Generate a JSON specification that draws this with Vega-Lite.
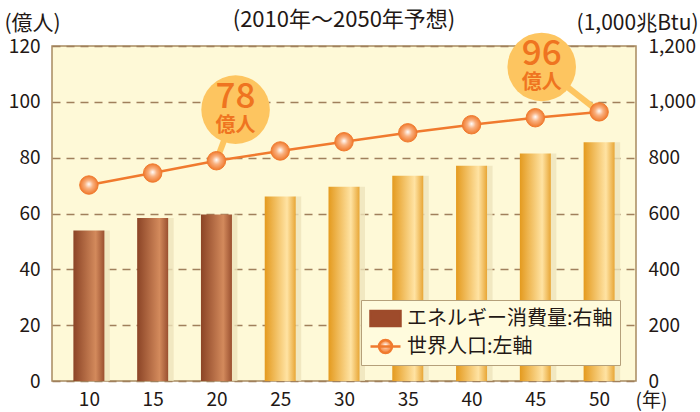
{
  "$schema": "https://vega.github.io/schema/vega-lite/v6.json",
  "width": 584,
  "height": 335,
  "autosize": {"type": "none"},
  "padding": {"left": 52, "top": 46, "right": 64, "bottom": 31},
  "background": "#FFFFFF",
  "config": {
    "font": "Noto Sans CJK JP",
    "view": {"fill": "#FEF9D7", "stroke": "#A88A60", "strokeWidth": 1.5},
    "axis": {"labelColor": "#231815", "titleColor": "#231815", "labelFont": "Noto Sans CJK JP", "titleFont": "Noto Sans CJK JP"}
  },
  "title": {"text": "(2010年〜2050年予想)", "fontSize": 22, "fontWeight": "normal", "color": "#231815", "anchor": "middle", "offset": 16, "dy": 36},
  "datasets": {
    "main": [
      {"year": 10, "type": "実績", "energy": 539, "pop": 70.2},
      {"year": 15, "type": "実績", "energy": 584, "pop": 74.5},
      {"year": 20, "type": "実績", "energy": 596, "pop": 78.9},
      {"year": 25, "type": "予想", "energy": 661, "pop": 82.4},
      {"year": 30, "type": "予想", "energy": 696, "pop": 85.7},
      {"year": 35, "type": "予想", "energy": 735, "pop": 88.9},
      {"year": 40, "type": "予想", "energy": 771, "pop": 91.8},
      {"year": 45, "type": "予想", "energy": 815, "pop": 94.3},
      {"year": 50, "type": "予想", "energy": 855, "pop": 96.4}
    ],
    "callouts": [
      {"cx": 21.5, "cy": 97.2, "px": 20, "py": 78.9, "num": "78", "unit": "億人"},
      {"cx": 45.5, "cy": 112.5, "px": 50, "py": 96.4, "num": "96", "unit": "億人"}
    ]
  },
  "encoding": {
    "x": {
      "field": "year", "type": "quantitative",
      "scale": {"domain": [7.5, 52.5], "nice": false, "zero": false},
      "axis": {
        "values": [10, 15, 20, 25, 30, 35, 40, 45, 50],
        "title": "(年)", "titleAngle": 0, "titleX": 583, "titleY": 19, "titleAlign": "left", "titleBaseline": "middle",
        "titleFontSize": 19, "titleFontWeight": "normal",
        "labelFontSize": 19, "labelPadding": 9, "ticks": false, "domain": false, "grid": false
      }
    }
  },
  "layer": [
    {
      "data": {"name": "main"},
      "encoding": {
        "y": {
          "field": "energy", "type": "quantitative",
          "scale": {"domain": [0, 1200], "nice": false},
          "axis": {
            "orient": "right", "values": [0, 200, 400, 600, 800, 1000, 1200], "format": ",d",
            "title": "(1,000兆Btu)", "titleAngle": 0, "titleX": 62, "titleY": -23, "titleAlign": "right", "titleBaseline": "middle",
            "titleFontSize": 21, "titleFontWeight": "normal",
            "labelFontSize": 19, "labelPadding": 12, "ticks": false, "domain": false, "grid": false
          }
        }
      },
      "layer": [
        {
          "mark": {"type": "bar", "size": 6, "xOffset": 18, "fill": "#EDE4BC", "opacity": 0.8}
        },
        {
          "mark": {"type": "bar", "size": 31},
          "encoding": {
            "fill": {
              "condition": {
                "test": "datum.type === '実績'",
                "value": {"gradient": "linear", "x1": 0, "y1": 0, "x2": 1, "y2": 0, "stops": [
                  {"offset": 0, "color": "#8B4426"},
                  {"offset": 0.72, "color": "#D38A5C"},
                  {"offset": 1, "color": "#9A5030"}
                ]}
              },
              "value": {"gradient": "linear", "x1": 0, "y1": 0, "x2": 1, "y2": 0, "stops": [
                {"offset": 0, "color": "#E49A1E"},
                {"offset": 0.72, "color": "#FFE3A3"},
                {"offset": 1, "color": "#E8A636"}
              ]}
            }
          }
        }
      ]
    },
    {
      "layer": [
        {
          "data": {"name": "callouts"},
          "mark": {"type": "rule", "strokeWidth": 6, "color": "#FDC560"},
          "encoding": {
            "x": {"field": "cx", "type": "quantitative"},
            "x2": {"field": "px"},
            "y": {
              "field": "cy", "type": "quantitative",
              "scale": {"domain": [0, 120], "nice": false},
              "axis": {
                "orient": "left", "values": [0, 20, 40, 60, 80, 100, 120],
                "title": "(億人)", "titleAngle": 0, "titleX": -20, "titleY": -23, "titleAlign": "center", "titleBaseline": "middle",
                "titleFontSize": 21, "titleFontWeight": "normal",
                "labelFontSize": 19, "labelPadding": 12, "ticks": false, "domain": false,
                "grid": true, "gridDash": [8, 6], "gridColor": "#A0805C", "gridWidth": 1.5
              }
            },
            "y2": {"field": "py"}
          }
        },
        {
          "data": {"name": "callouts"},
          "mark": {"type": "point", "shape": "circle", "filled": true, "size": 4700, "color": "#FDC560", "opacity": 1},
          "encoding": {
            "x": {"field": "cx", "type": "quantitative"},
            "y": {"field": "cy", "type": "quantitative"}
          }
        },
        {
          "data": {"name": "callouts"},
          "mark": {"type": "text", "fontSize": 35, "fontWeight": 500, "color": "#EF7420", "dy": -13, "baseline": "middle", "align": "center"},
          "encoding": {
            "x": {"field": "cx", "type": "quantitative"},
            "y": {"field": "cy", "type": "quantitative"},
            "text": {"field": "num"}
          }
        },
        {
          "data": {"name": "callouts"},
          "mark": {"type": "text", "fontSize": 20, "fontWeight": "bold", "color": "#EF7420", "dy": 16, "baseline": "middle", "align": "center"},
          "encoding": {
            "x": {"field": "cx", "type": "quantitative"},
            "y": {"field": "cy", "type": "quantitative"},
            "text": {"field": "unit"}
          }
        },
        {
          "data": {"name": "main"},
          "mark": {"type": "line", "strokeWidth": 2.5},
          "encoding": {
            "y": {"field": "pop", "type": "quantitative"},
            "stroke": {
              "datum": "世界人口:左軸",
              "scale": {"domain": ["エネルギー消費量:右軸", "世界人口:左軸"], "range": ["#9E4B2B", "#F07A2E"]},
              "legend": {
                "orient": "bottom-right", "offset": 16, "title": null,
                "labelFontSize": 20, "labelColor": "#231815", "labelFont": "Noto Sans CJK JP", "labelOffset": 10, "labelLimit": 400,
                "fillColor": "#FFFBDD", "strokeColor": "#B5A07A", "padding": 7, "rowPadding": 4,
                "symbolSize": 400, "symbolOffset": 6, "symbolStrokeWidth": 2.5,
                "encode": {
                  "symbols": {
                    "update": {
                      "shape": [
                        {"test": "datum.value === '世界人口:左軸'", "value": "M-1.5,0H1.5M0.65,0A0.65,0.65,0,1,1,-0.65,0A0.65,0.65,0,1,1,0.65,0Z"},
                        {"value": "M-1.5,-0.75H1.5V0.75H-1.5Z"}
                      ],
                      "fill": [
                        {"test": "datum.value === '世界人口:左軸'", "value": {"gradient": "radial", "x1": 0.5, "y1": 0.45, "r1": 0, "x2": 0.5, "y2": 0.5, "r2": 0.25, "stops": [
                          {"offset": 0, "color": "#FFFFFF"},
                          {"offset": 0.5, "color": "#F9A873"},
                          {"offset": 1, "color": "#F07A2E"}
                        ]}},
                        {"value": "#9E4B2B"}
                      ],
                      "stroke": [
                        {"test": "datum.value === '世界人口:左軸'", "value": "#F07A2E"},
                        {"value": "transparent"}
                      ],
                      "strokeWidth": {"value": 2.5},
                      "opacity": {"value": 1},
                      "fillOpacity": {"value": 1},
                      "strokeOpacity": {"value": 1}
                    }
                  }
                }
              }
            }
          }
        },
        {
          "data": {"name": "main"},
          "mark": {
            "type": "point", "shape": "circle", "size": 340, "filled": true, "opacity": 1,
            "fill": {"gradient": "radial", "x1": 0.5, "y1": 0.45, "r1": 0, "x2": 0.5, "y2": 0.5, "r2": 0.5, "stops": [
              {"offset": 0, "color": "#FFFFFF"},
              {"offset": 0.45, "color": "#F9B07E"},
              {"offset": 1, "color": "#F07A2E"}
            ]},
            "stroke": "#F07A2E", "strokeWidth": 1
          },
          "encoding": {
            "y": {"field": "pop", "type": "quantitative"}
          }
        }
      ]
    }
  ],
  "resolve": {"scale": {"y": "independent"}}
}
